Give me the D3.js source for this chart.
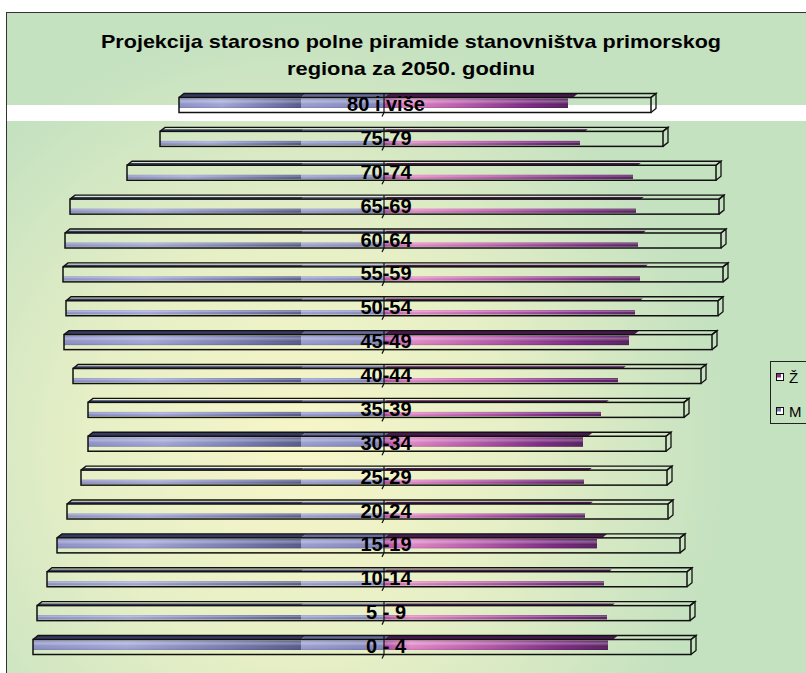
<!DOCTYPE html>
<html><head><meta charset="utf-8">
<script src="https://cdn.jsdelivr.net/npm/d3@7"></script>
<style>html,body{margin:0;padding:0;background:#fff;}svg{display:block;}</style>
</head><body>
<script>
// ---- data (top of file) ----
const ageGroups = ["0 - 4","5 - 9","10-14","15-19","20-24","25-29","30-34","35-39","40-44","45-49","50-54","55-59","60-64","65-69","70-74","75-79","80 i više"];
const male   = [351,347,337,327,317,303,296,296,311,320,318,321,319,314,257,224,205];
const female = [307,306,303,296,284,283,282,300,317,328,334,339,337,335,332,279,267];
const seriesNames = ["Ž","M"];
const titleLines = ["Projekcija starosno polne piramide stanovništva primorskog","regiona za 2050. godinu"];
// rows rendered with the thick gradient band (rendering style, not data)
const thickRows = ["80 i više","45-49","30-34","15-19","0 - 4"];

const W = 806, H = 673;
const svg = d3.select("body").append("svg").attr("width", W).attr("height", H);
const defs = svg.append("defs");

// background
const bg = defs.append("radialGradient").attr("id","bg").attr("gradientUnits","userSpaceOnUse")
  .attr("cx",300).attr("cy",450).attr("r",430);
bg.append("stop").attr("offset",0).attr("stop-color","#f7f6c8");
bg.append("stop").attr("offset",0.5).attr("stop-color","#e6efc6");
bg.append("stop").attr("offset",1).attr("stop-color","#c4e1c0");
svg.append("rect").attr("x",6.5).attr("y",12.5).attr("width",900).attr("height",700)
  .attr("fill","url(#bg)").attr("stroke","#333").attr("stroke-width",1);
// white horizontal band (as in reference)
svg.append("rect").attr("x",7).attr("y",105).attr("width",W).attr("height",16).attr("fill","#ffffff");

// gradients
function lin(id, stops, vertical){
  const g = defs.append("linearGradient").attr("id",id)
    .attr("x1",0).attr("y1",0).attr("x2",vertical?0:1).attr("y2",vertical?1:0);
  stops.forEach(s=>g.append("stop").attr("offset",s[0]).attr("stop-color",s[1]).attr("stop-opacity",s[2]==null?1:s[2]));
}
lin("maleA",[[0,"#8d91c6"],[0.35,"#a2a6d6"],[0.75,"#7478ad"],[1,"#555a8a"]]);
lin("maleB",[[0,"#9a9ed1"],[1,"#7f83ba"]]);
lin("fem",[[0,"#a8479f"],[0.12,"#e186c6"],[0.45,"#b458a8"],[0.8,"#782880"],[1,"#581f5f"]]);
lin("shade",[[0,"#ffffff",0.0],[0.3,"#ffffff",0.3],[0.6,"#ffffff",0],[1,"#000000",0.15]],true);

// scales
const x = d3.scaleLinear().domain([-400,400]).range([-16,784]);
const y = d3.scalePoint().domain(ageGroups.slice().reverse()).range([105,647]);
const faceH = 15, dx = 5, dy = 4, texOff = 83;
const c = x(0);

const rows = ageGroups.map((g,i)=>({g, m:male[i], f:female[i], thick: thickRows.includes(g)}));
const gRows = svg.append("g");

rows.forEach(r=>{
  const top = y(r.g) - faceH/2, bot = top + faceH;
  const x0 = x(-r.m), x1 = x(r.f);
  const mEdge = c - texOff, fEnd = x1 - texOff;
  const gr = gRows.append("g");
  const fy = r.thick ? top+1 : bot-5.5;
  const fh = r.thick ? 9.5 : 4.2;
  gr.append("rect").attr("x",x0).attr("y",fy).attr("width",mEdge-x0).attr("height",fh).attr("fill","url(#maleA)");
  gr.append("rect").attr("x",mEdge).attr("y",fy).attr("width",c-mEdge).attr("height",fh).attr("fill","url(#maleB)");
  gr.append("rect").attr("x",c).attr("y",fy).attr("width",fEnd-c).attr("height",fh).attr("fill","url(#fem)");
  gr.append("rect").attr("x",x0).attr("y",fy).attr("width",fEnd-x0).attr("height",fh).attr("fill","url(#shade)");
  // top face dark bands
  const bandH = r.thick ? dy : 2.2;
  const band = (a,b,col)=>{
    gr.append("path").attr("d",`M${a},${top} L${a+dx*bandH/dy},${top-bandH} L${b+dx*bandH/dy},${top-bandH} L${b},${top} Z`).attr("fill",col);
  };
  band(x0, mEdge, "#363a63");
  band(mEdge, c, "#666a9b");
  band(c, fEnd+5, "#4a1850");
  const st = "#111";
  gr.append("path").attr("d",`M${x0},${top} L${x0+dx},${top-dy} L${x1+dx},${top-dy} L${x1},${top}`)
    .attr("fill","none").attr("stroke",st).attr("stroke-width",1.3);
  gr.append("rect").attr("x",x0).attr("y",top).attr("width",x1-x0).attr("height",faceH)
    .attr("fill","none").attr("stroke",st).attr("stroke-width",1.5);
  gr.append("path").attr("d",`M${x1},${top} L${x1+dx},${top-dy} L${x1+dx},${bot-dy} L${x1},${bot}`)
    .attr("fill","none").attr("stroke",st).attr("stroke-width",1.3);
  gr.append("path").attr("d",`M${c},${top-dy} L${c},${bot} L${c-2},${bot+4}`)
    .attr("fill","none").attr("stroke",st).attr("stroke-width",1.2);
  gr.append("text").attr("x",c+2).attr("y",top+faceH/2-1).attr("text-anchor","middle")
    .attr("dominant-baseline","central").attr("font-family","'Liberation Sans', Arial, sans-serif")
    .attr("font-weight","bold").attr("font-size",20).attr("fill","#000").text(r.g);
});

// title
const tl = [{t:titleLines[0], y:48, w:620},{t:titleLines[1], y:75, w:248}];
tl.forEach(d=>{
  svg.append("text").attr("x",411).attr("y",d.y).attr("text-anchor","middle")
    .attr("font-family","'Liberation Sans', Arial, sans-serif").attr("font-weight","bold")
    .attr("font-size",19).attr("textLength",d.w).attr("lengthAdjust","spacingAndGlyphs")
    .attr("fill","#000").text(d.t);
});

// legend
const lg = svg.append("g");
lg.append("rect").attr("x",770.5).attr("y",361.5).attr("width",60).attr("height",62)
  .attr("fill","none").attr("stroke","#222").attr("stroke-width",1);
const legCols = ["#8b2f8a","#7579b3"];
[377,411].forEach((yy,i)=>{
  lg.append("rect").attr("x",776.5).attr("y",yy-3.5).attr("width",7).attr("height",7)
    .attr("fill","#fff").attr("stroke","#111").attr("stroke-width",1);
  lg.append("rect").attr("x",777).attr("y",yy-3).attr("width",4).attr("height",3.5).attr("fill",legCols[i]);
  lg.append("text").attr("x",789).attr("y",yy).attr("dominant-baseline","central")
    .attr("font-family","'Liberation Sans', Arial, sans-serif").attr("font-size",15)
    .attr("fill","#000").text(seriesNames[i]);
});
</script>
</body></html>
